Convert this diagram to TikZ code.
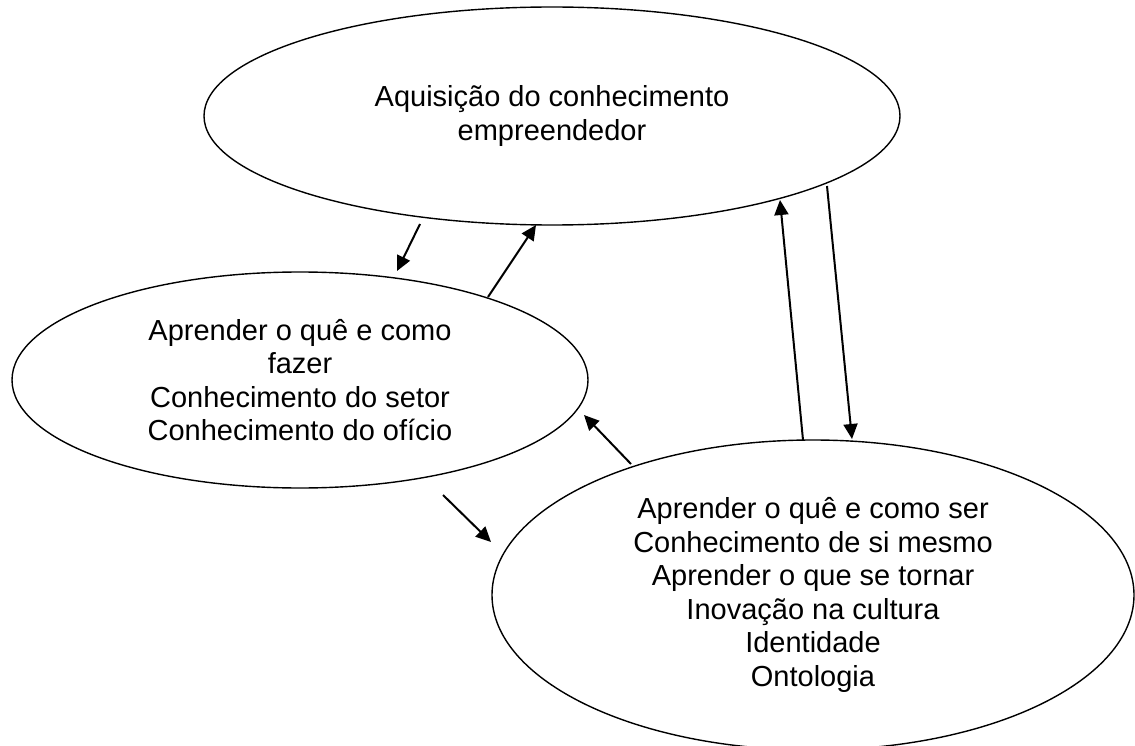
\documentclass[tikz,border=0pt]{standalone}
\usepackage{fontspec}
\setmainfont{Liberation Sans}
\usetikzlibrary{shapes.geometric,arrows.meta}
\begin{document}
\begin{tikzpicture}[x=1pt,y=-1pt,
  bubble/.style={draw=black, line width=1.4pt, ellipse, inner sep=0pt, align=center,
    font=\fontsize{29}{33.5}\selectfont},
  flow/.style={line width=2pt, -{Triangle[length=15pt,width=14pt]}}]
\useasboundingbox (0,0) rectangle (1135,746);
\node[bubble, minimum width=696pt, minimum height=218pt] (top) at (552,116)
  {Aquisição do conhecimento\\empreendedor};
\node[bubble, minimum width=576pt, minimum height=216pt] (left) at (300,380)
  {Aprender o quê e como\\fazer\\Conhecimento do setor\\Conhecimento do ofício};
\node[bubble, minimum width=642pt, minimum height=310pt] (right) at (813,595)
  {Aprender o quê e como ser\\Conhecimento de si mesmo\\Aprender o que se tornar\\Inovação na cultura\\Identidade\\Ontologia};
\coordinate (a1s) at (420,224); \coordinate (a1e) at (397,271);
\coordinate (a2s) at (488,297); \coordinate (a2e) at (536,225);
\coordinate (a3s) at (803,440); \coordinate (a3e) at (780,200);
\coordinate (a4s) at (827,186); \coordinate (a4e) at (852,439);
\coordinate (a5s) at (631,464); \coordinate (a5e) at (584,415);
\coordinate (a6s) at (443,495); \coordinate (a6e) at (491,542);
\draw[flow] (a1s) -- (a1e);
\draw[flow] (a2s) -- (a2e);
\draw[flow] (a3s) -- (a3e);
\draw[flow] (a4s) -- (a4e);
\draw[flow] (a5s) -- (a5e);
\draw[flow] (a6s) -- (a6e);
\end{tikzpicture}
\end{document}
